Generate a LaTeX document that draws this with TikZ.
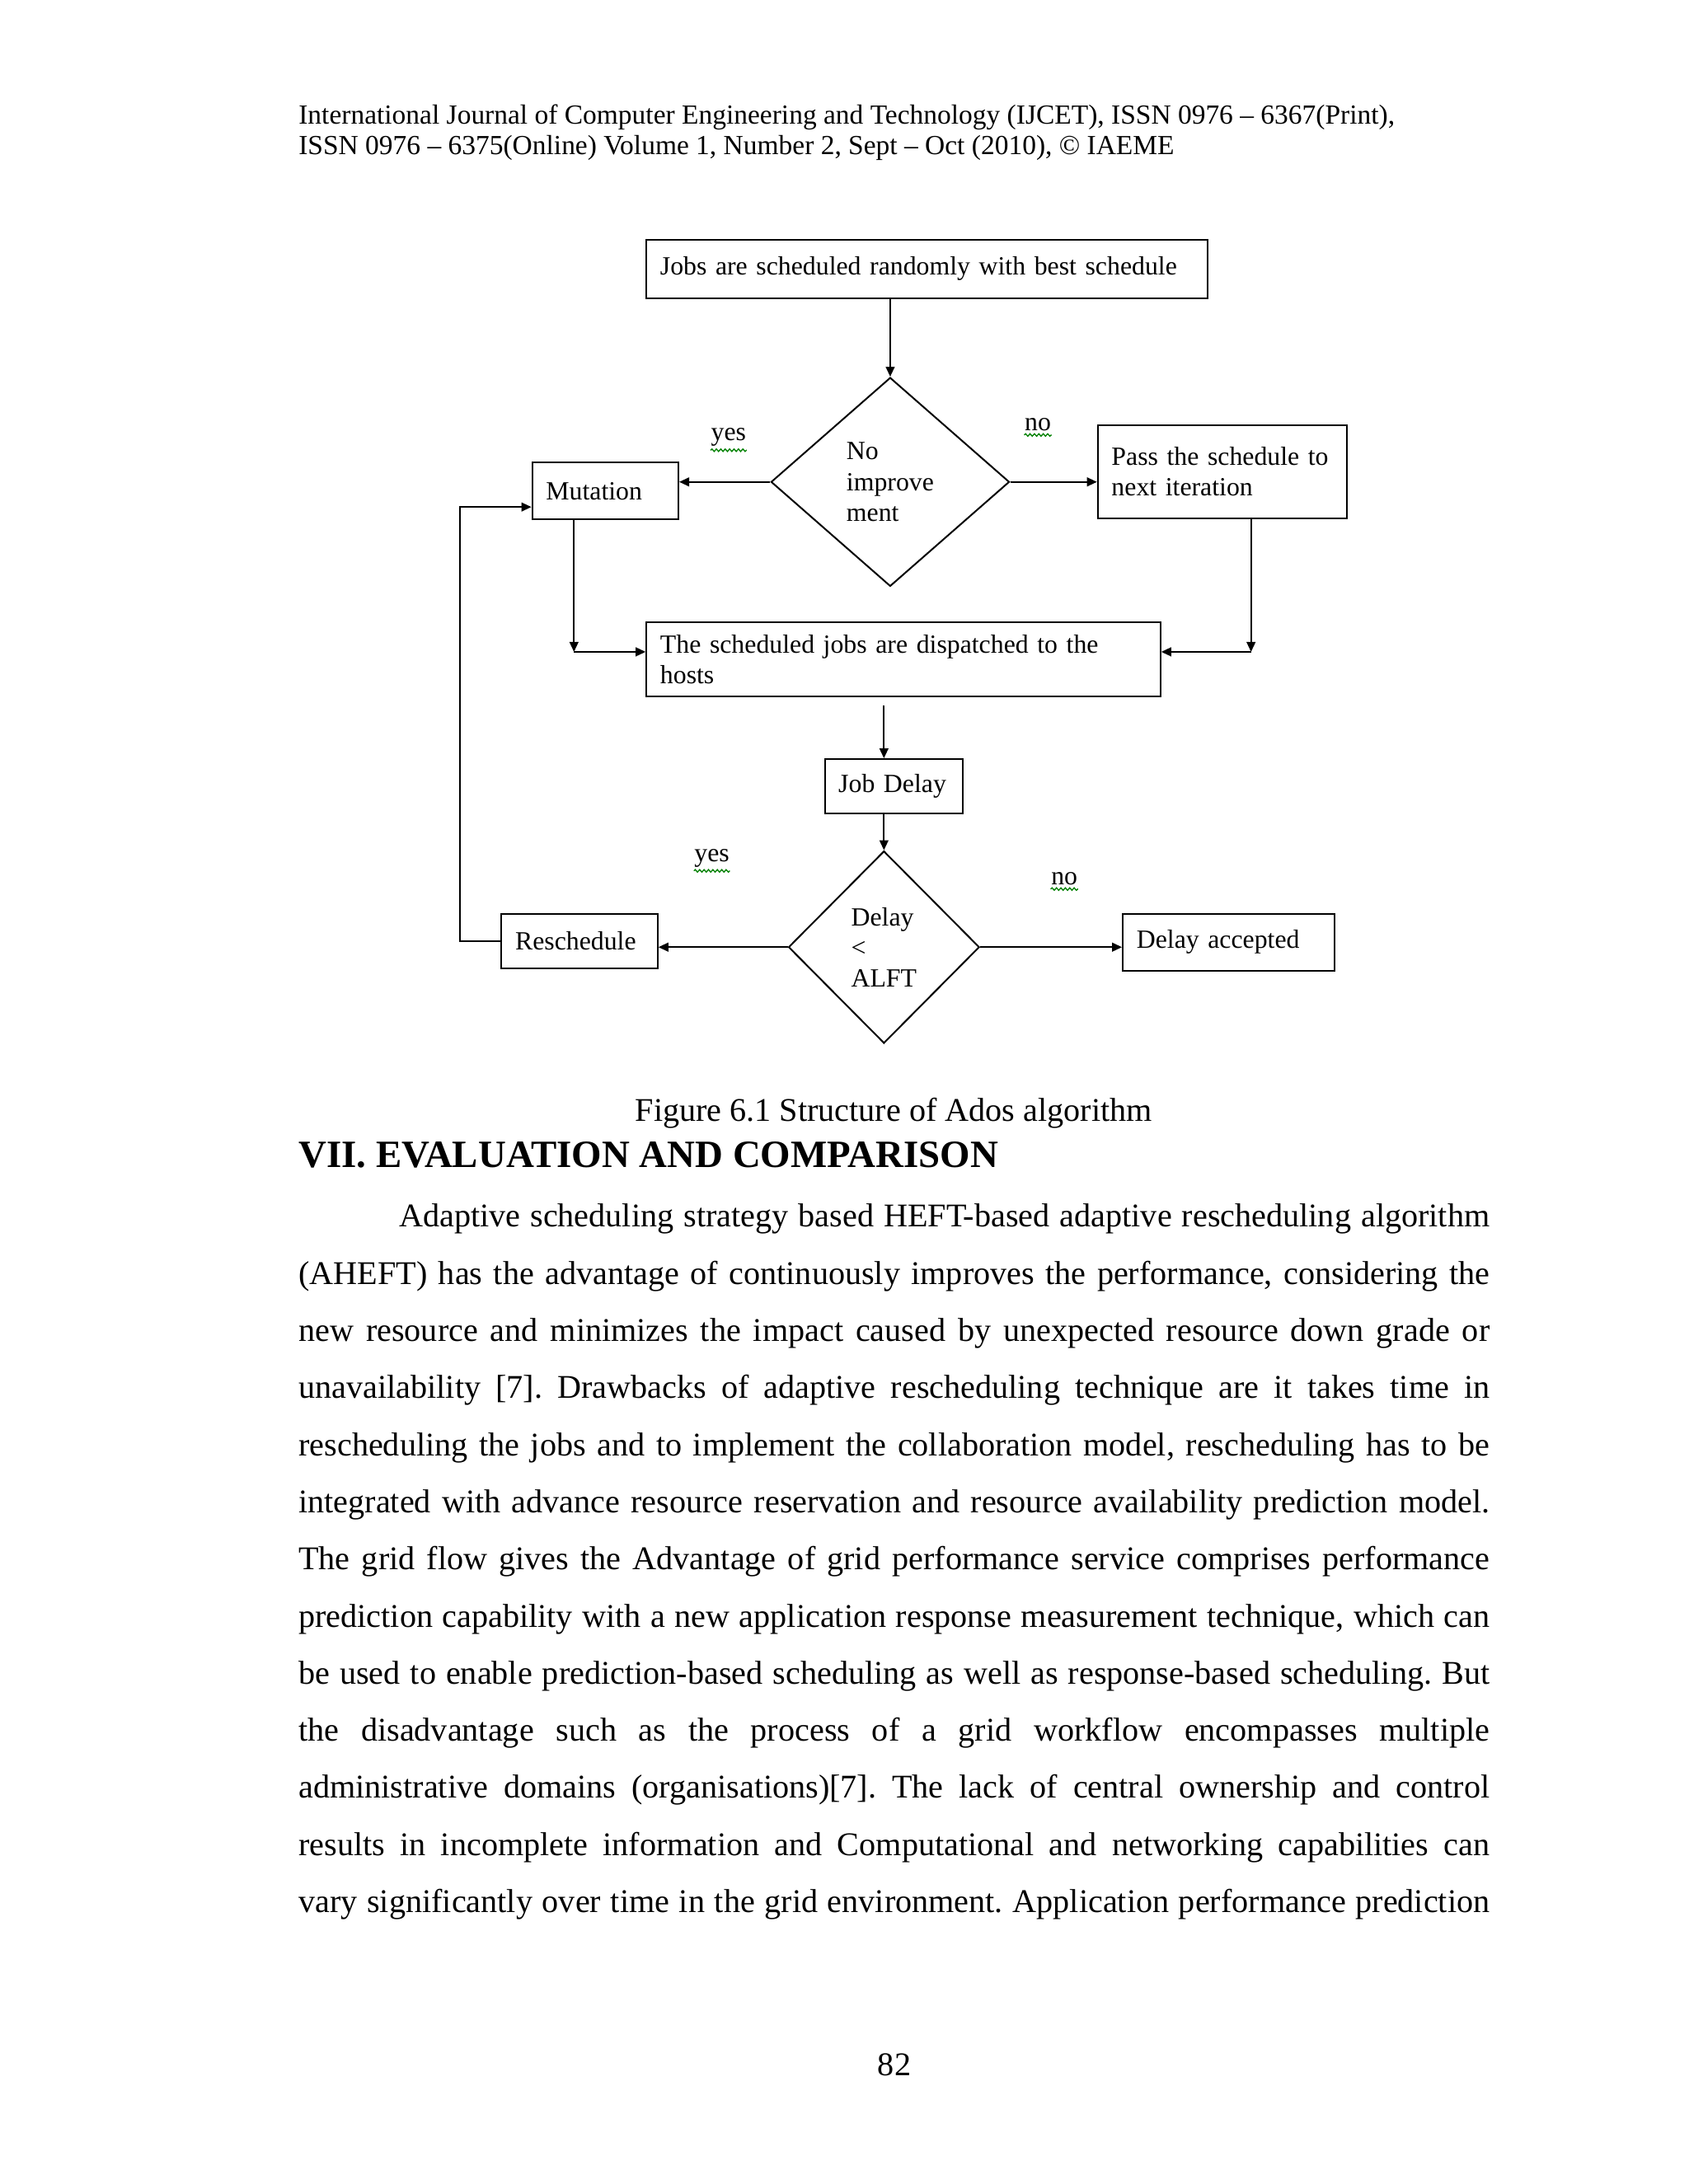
\documentclass[tikz,border=0pt]{standalone}
\usepackage{fontspec}
\setmainfont{Liberation Serif}
\usetikzlibrary{shapes.geometric,arrows.meta,decorations.pathmorphing}
\frenchspacing

\newcommand{\diagfont}{\fontsize{9.5}{11.1}\selectfont}
\newcommand{\jline}[1]{\hbox to 431.7pt{#1}}

\tikzset{
  procbox/.style={draw, rectangle, line width=0.6pt, inner xsep=5pt, inner ysep=0pt, align=left, font=\diagfont},
  decision/.style={draw, diamond, line width=0.6pt, inner sep=0pt, align=left, font=\diagfont},
  arr/.style={line width=0.6pt, -{Triangle[length=3.6pt,width=3.2pt]}},
  flowlbl/.style={inner sep=0pt, font=\diagfont},
  spell/.style={green!50!black, line width=0.4pt, decorate, decoration={snake, amplitude=0.45pt, segment length=1.6pt}},
  pagetxt/.style={inner sep=0pt, font=\fontsize{12}{14}\selectfont}
}

\begin{document}
\begin{tikzpicture}[x=0.50495pt,y=-0.50495pt]

\fill[white] (0,0) rectangle (1212,1568);
\useasboundingbox (0,0) rectangle (1212,1568);

\node[inner sep=0pt, anchor=base west, font=\fontsize{10}{11.5}\selectfont] (hdA) at (214,89) {International Journal of Computer Engineering and Technology (IJCET), ISSN 0976 -- 6367(Print),};
\node[inner sep=0pt, anchor=base west, font=\fontsize{10}{11.5}\selectfont] (hdB) at (214,111) {ISSN 0976 -- 6375(Online) Volume 1, Number 2, Sept -- Oct (2010), © IAEME};

\node[procbox, text width=193.5pt, minimum height=21.2pt] (start) at (665.5,193) {Jobs are scheduled randomly with best schedule};
\node[decision, minimum width=86.4pt, minimum height=75.7pt] (dec1) at (639,346) {No\\improve\\ment};
\node[procbox, text width=43pt, minimum height=20.7pt] (mut) at (434.5,352.5) {Mutation};
\node[procbox, text width=80.4pt, minimum height=33.8pt] (pass) at (877.5,338.5) {Pass the schedule to\\next iteration};
\node[procbox, text width=176.3pt, minimum height=26.8pt] (disp) at (648.5,473.5) {The scheduled jobs are dispatched to the\\hosts};
\node[procbox, text width=40pt, minimum height=19.7pt] (jd) at (641.5,564.5) {Job Delay};
\node[decision, minimum width=69.2pt, minimum height=69.7pt] (dec2) at (634.5,680) {Delay\\<\\ALFT};
\node[procbox, text width=46.6pt, minimum height=19.7pt] (resch) at (416,675.5) {Reschedule};
\node[procbox, text width=66.8pt, minimum height=20.7pt] (acc) at (882,676.5) {Delay accepted};

\node[flowlbl] (yes1) at (523,314) {yes};
\node[flowlbl] (no1) at (745,305) {no};
\node[flowlbl] (yes2) at (511,616) {yes};
\node[flowlbl] (no2) at (764,631) {no};
\foreach \lbl in {yes1,no1,yes2,no2}
  \draw[spell] ([yshift=-1.2pt]\lbl.south west) -- ([yshift=-1.2pt]\lbl.south east);

\coordinate (lp) at (330,364);
\coordinate (m1) at (412,468);
\coordinate (p1) at (898,468);
\coordinate (d1) at ([yshift=-3pt]disp.south);

\draw[arr] (start.south -| dec1.north) -- (dec1.north);
\draw[arr] (dec1.west) -- (dec1.west -| mut.east);
\draw[arr] (dec1.east) -- (dec1.east -| pass.west);
\draw[arr] (mut.south -| m1) -- (m1);
\draw[arr] (m1) -- (m1 -| disp.west);
\draw[arr] (pass.south -| p1) -- (p1);
\draw[arr] (p1) -- (p1 -| disp.east);
\draw[arr] (d1 -| dec2.north) -- (dec2.north |- jd.north);
\draw[arr] (jd.south -| dec2.north) -- (dec2.north);
\draw[arr] (dec2.west) -- (dec2.west -| resch.east);
\draw[arr] (dec2.east) -- (dec2.east -| acc.west);
\draw[arr] (resch.west) -| (lp) -- (lp -| mut.west);

\node[pagetxt, anchor=base] (cap) at (641.5,805) {Figure 6.1 Structure of Ados algorithm};
\node[inner sep=0pt, anchor=base west, font=\bfseries\fontsize{14}{16}\selectfont] (sec) at (214,838) {VII. EVALUATION AND COMPARISON};

\foreach \row [count=\i] in {
  {\hspace*{36.4pt}Adaptive scheduling strategy based HEFT-based adaptive rescheduling algorithm},
  {(AHEFT) has the advantage of continuously improves the performance, considering the},
  {new resource and minimizes the impact caused by unexpected resource down grade or},
  {unavailability [7]. Drawbacks of adaptive rescheduling technique are it takes time in},
  {rescheduling the jobs and to implement the collaboration model, rescheduling has to be},
  {integrated with advance resource reservation and resource availability prediction model.},
  {The grid flow gives the Advantage of grid performance service comprises performance},
  {prediction capability with a new application response measurement technique, which can},
  {be used to enable prediction-based scheduling as well as response-based scheduling. But},
  {the disadvantage such as the process of a grid workflow encompasses multiple},
  {administrative domains (organisations)[7]. The lack of central ownership and control},
  {results in incomplete information and Computational and networking capabilities can},
  {vary significantly over time in the grid environment. Application performance prediction}}
  \node[pagetxt, anchor=base west] (ln\i) at (214,{881+41*(\i-1)}) {\jline{\row}};

\node[pagetxt, anchor=base] (pg) at (642,1490) {82};

\end{tikzpicture}
\end{document}
